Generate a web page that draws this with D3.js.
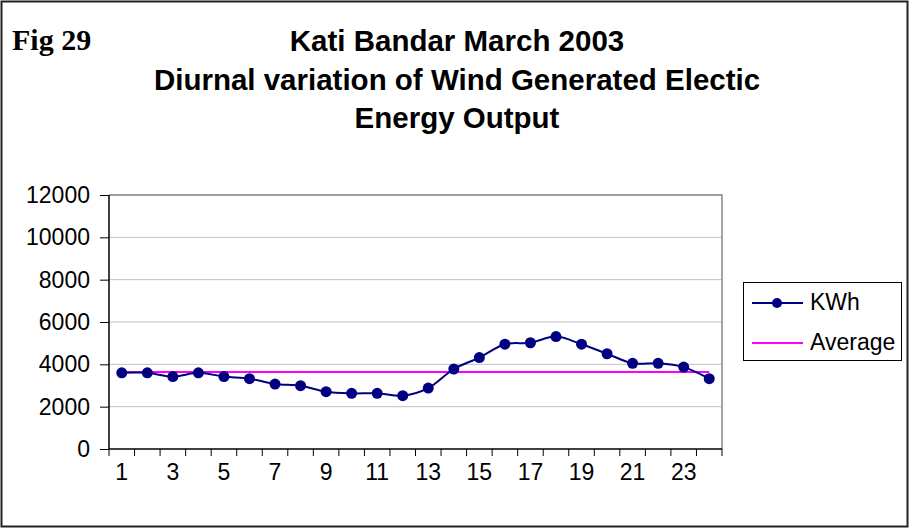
<!DOCTYPE html>
<html>
<head>
<meta charset="utf-8">
<script src="https://cdn.jsdelivr.net/npm/d3@7"></script>
<style>
  body { margin: 0; background: #fff; }
  svg text { font-family: Arial, "Liberation Sans", sans-serif; }
</style>
</head>
<body>
<svg id="chart" width="910" height="529"></svg>
<script>
// hours of the day (category axis)
var hours = [1,2,3,4,5,6,7,8,9,10,11,12,13,14,15,16,17,18,19,20,21,22,23,24];
// KWh per hour
var kwh = [3600,3600,3420,3600,3420,3320,3070,2990,2710,2630,2630,2520,
           2880,3780,4320,4950,5020,5310,4950,4500,4050,4050,3870,3320];
var average = 3640;
var yTicks = [0,2000,4000,6000,8000,10000,12000];
var xLabels = [1,3,5,7,9,11,13,15,17,19,21,23];
var titleLines = ["Kati Bandar March 2003", "Diurnal variation of Wind Generated Electic", "Energy Output"];

var svg = d3.select('#chart');

// outer frame
svg.append('rect').attr('x', 1.5).attr('y', 1.5).attr('width', 906).attr('height', 525)
  .style('fill', 'none').style('stroke', '#222').style('stroke-width', 2);

svg.append('text').text('Fig 29')
  .attr('x', 12).attr('y', 50)
  .style('font-family', '"Liberation Serif", "Times New Roman", serif')
  .style('font-weight', 'bold').style('font-size', '30px');

svg.selectAll('text.title').data(titleLines).enter().append('text')
  .attr('class', 'title')
  .attr('x', 457).attr('y', function(d, i){ return 51 + i * 38.5; })
  .attr('text-anchor', 'middle')
  .style('font-weight', 'bold').style('font-size', '29.5px')
  .text(function(d){ return d; });

var pLeft = 109, pRight = 722, pTop = 195, pBottom = 449;

var x = d3.scaleBand().domain(hours).range([pLeft, pRight]).padding(0);
var y = d3.scaleLinear().domain([0, 12000]).range([pBottom, pTop]);
var cx = function(h){ return x(h) + x.bandwidth() / 2; };

// gridlines
svg.append('g').selectAll('line').data(yTicks.filter(function(d){ return d > 0; })).enter().append('line')
  .attr('x1', pLeft).attr('x2', pRight)
  .attr('y1', function(d){ return y(d); }).attr('y2', function(d){ return y(d); })
  .style('stroke', '#c0c0c0').style('stroke-width', 1);

// plot area border (top/right)
svg.append('path')
  .attr('d', 'M' + pLeft + ',' + pTop + 'H' + pRight + 'V' + pBottom)
  .style('fill', 'none').style('stroke', '#888').style('stroke-width', 1.5);

// y axis
var yAxis = d3.axisLeft(y).tickValues(yTicks).tickFormat(d3.format('d')).tickSize(9).tickPadding(10);
var gy = svg.append('g').attr('transform', 'translate(' + pLeft + ',0)').call(yAxis);
gy.select('.domain').remove();
gy.append('line').attr('x1', 0).attr('x2', 0).attr('y1', pTop).attr('y2', pBottom)
  .style('stroke', '#000').style('stroke-width', 1.5);
gy.selectAll('.tick line').style('stroke', '#000');
gy.selectAll('.tick text').style('font-size', '23px').style('fill', '#000')
  .style('font-family', 'Arial, "Liberation Sans", sans-serif');

// x axis
var gx = svg.append('g');
gx.append('line').attr('x1', pLeft).attr('x2', pRight).attr('y1', pBottom).attr('y2', pBottom)
  .style('stroke', '#000').style('stroke-width', 1.5);
gx.selectAll('line.tk').data(hours.concat([25])).enter().append('line')
  .attr('class', 'tk')
  .attr('x1', function(d){ return d === 25 ? pRight : x(d); })
  .attr('x2', function(d){ return d === 25 ? pRight : x(d); })
  .attr('y1', pBottom).attr('y2', pBottom + 7)
  .style('stroke', '#000').style('stroke-width', 1);
gx.selectAll('text').data(xLabels).enter().append('text')
  .attr('x', function(d){ return cx(d); }).attr('y', 480)
  .attr('text-anchor', 'middle').style('font-size', '23px')
  .text(function(d){ return d; });

// average line
svg.append('line')
  .attr('x1', cx(hours[0])).attr('x2', cx(hours[hours.length - 1]))
  .attr('y1', y(average)).attr('y2', y(average))
  .style('stroke', '#ff00ff').style('stroke-width', 2);

// KWh series
var line = d3.line()
  .x(function(d, i){ return cx(hours[i]); })
  .y(function(d){ return y(d); })
  .curve(d3.curveCatmullRom.alpha(0.5));
svg.append('path').datum(kwh).attr('d', line)
  .style('fill', 'none').style('stroke', '#000080').style('stroke-width', 2);
svg.append('g').selectAll('circle').data(kwh).enter().append('circle')
  .attr('cx', function(d, i){ return cx(hours[i]); })
  .attr('cy', function(d){ return y(d); })
  .attr('r', 5.5).style('fill', '#000080');

// legend
var lg = svg.append('g');
lg.append('rect').attr('x', 743.5).attr('y', 282.5).attr('width', 158).attr('height', 78)
  .style('fill', '#fff').style('stroke', '#000').style('stroke-width', 1);
lg.append('line').attr('x1', 752).attr('x2', 803).attr('y1', 303).attr('y2', 303)
  .style('stroke', '#000080').style('stroke-width', 2);
lg.append('circle').attr('cx', 777).attr('cy', 303).attr('r', 5).style('fill', '#000080');
lg.append('text').attr('x', 810).attr('y', 310).style('font-size', '23px').text('KWh');
lg.append('line').attr('x1', 752).attr('x2', 803).attr('y1', 343).attr('y2', 343)
  .style('stroke', '#ff00ff').style('stroke-width', 2);
lg.append('text').attr('x', 810).attr('y', 350).style('font-size', '23px').text('Average');
</script>
</body>
</html>
